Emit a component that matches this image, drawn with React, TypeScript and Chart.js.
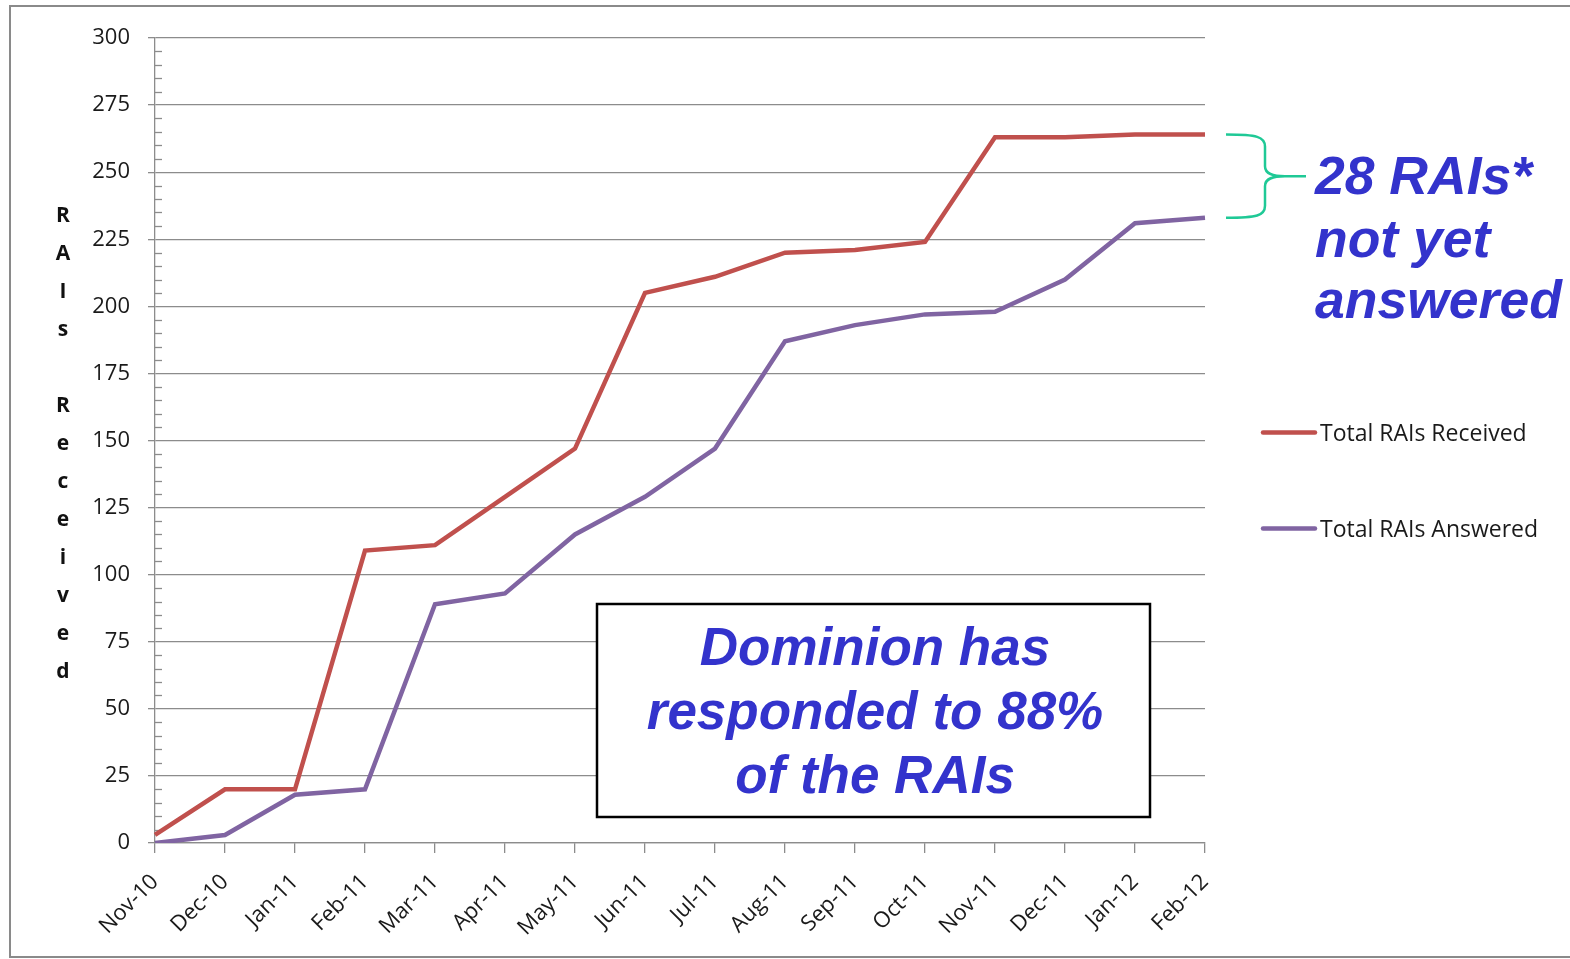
import React, { useEffect, useRef } from 'react';
import { Chart, registerables } from 'chart.js';

Chart.register(...registerables);

// ---- data ----
const months = ['Nov-10', 'Dec-10', 'Jan-11', 'Feb-11', 'Mar-11', 'Apr-11', 'May-11', 'Jun-11', 'Jul-11', 'Aug-11', 'Sep-11', 'Oct-11', 'Nov-11', 'Dec-11', 'Jan-12', 'Feb-12'];
const received = [3, 20, 20, 109, 111, 129, 147, 205, 211, 220, 221, 224, 263, 263, 264, 264];
const answered = [0, 3, 18, 20, 89, 93, 115, 129, 147, 187, 193, 197, 198, 210, 231, 233];
const seriesLabels = ['Total RAIs Received', 'Total RAIs Answered'];
const seriesColors = ['#c0504d', '#8064a2'];
const yTitle = 'RAIs Received';
const gapNote = ['28 RAIs*', 'not yet', 'answered'];
const boxNote = ['Dominion has', 'responded to 88%', 'of the RAIs'];
const yMin = 0;
const yMax = 300;
const yMajorStep = 25;
const yMinorStep = 5;

const GRID = '#8c8c8c';
const NOTE_BLUE = '#3333cc';
const BRACKET = '#1fc996';

const decor = {
  id: 'decor',
  beforeDraw(chart: any) {
    const ctx = chart.ctx;
    ctx.save();
    ctx.fillStyle = '#ffffff';
    ctx.fillRect(0, 0, chart.width, chart.height);
    ctx.strokeStyle = '#8a8a8a';
    ctx.lineWidth = 2;
    ctx.strokeRect(10, 6, chart.width + 40, 951);
    ctx.restore();
  },
  beforeDatasetsDraw(chart: any) {
    const ctx = chart.ctx;
    const y = chart.scales.y;
    const left = chart.chartArea.left;
    ctx.save();
    ctx.strokeStyle = GRID;
    ctx.lineWidth = 1.3;
    for (let v = yMin; v <= yMax; v += yMinorStep) {
      if (v % yMajorStep === 0) continue;
      const py = Math.round(y.getPixelForValue(v)) + 0.5;
      ctx.beginPath();
      ctx.moveTo(left, py);
      ctx.lineTo(left + 7, py);
      ctx.stroke();
    }
    ctx.restore();
  },
  afterDraw(chart: any) {
    const ctx = chart.ctx;
    const ys = chart.scales.y;
    const area = chart.chartArea;
    ctx.save();

    // stacked y-axis title
    ctx.fillStyle = '#111111';
    ctx.font = 'bold 21px "Open Sans"';
    ctx.textAlign = 'center';
    ctx.textBaseline = 'middle';
    yTitle.split('').forEach((ch, i) => {
      ctx.fillText(ch, 63, 216 + i * 38.0);
    });

    // legend
    chart.data.datasets.forEach((ds: any, i: number) => {
      const ly = 432.5 + i * 96;
      ctx.strokeStyle = ds.borderColor;
      ctx.lineWidth = 4.5;
      ctx.lineCap = 'round';
      ctx.beginPath();
      ctx.moveTo(1263, ly);
      ctx.lineTo(1315, ly);
      ctx.stroke();
      ctx.fillStyle = '#1a1a1a';
      ctx.font = '23px "Open Sans"';
      ctx.textAlign = 'left';
      ctx.textBaseline = 'alphabetic';
      ctx.fillText(ds.label, 1320, ly + 8.5);
    });

    // bracket between last values
    const lastR = received[received.length - 1];
    const lastA = answered[answered.length - 1];
    const yTop = ys.getPixelForValue(lastR);
    const yBot = ys.getPixelForValue(lastA);
    const yMid = (yTop + yBot) / 2;
    const x0 = area.right + 21;
    const xv = area.right + 60;
    const xp = area.right + 101;
    ctx.strokeStyle = BRACKET;
    ctx.lineWidth = 2.5;
    ctx.lineCap = 'butt';
    ctx.beginPath();
    ctx.moveTo(x0, yTop);
    ctx.bezierCurveTo(xv - 8, yTop, xv, yTop + 2, xv, yTop + 12);
    ctx.lineTo(xv, yMid - 10);
    ctx.bezierCurveTo(xv, yMid - 2, xv + 8, yMid, xv + 20, yMid);
    ctx.lineTo(xp, yMid);
    ctx.moveTo(xv + 20, yMid);
    ctx.bezierCurveTo(xv + 8, yMid, xv, yMid + 2, xv, yMid + 10);
    ctx.lineTo(xv, yBot - 12);
    ctx.bezierCurveTo(xv, yBot - 2, xv - 8, yBot, x0, yBot);
    ctx.stroke();

    // gap note
    ctx.fillStyle = NOTE_BLUE;
    ctx.font = 'italic bold 53.5px "Liberation Sans"';
    ctx.textAlign = 'left';
    ctx.textBaseline = 'alphabetic';
    const gapBase = [194, 257, 318];
    gapNote.forEach((t, i) => ctx.fillText(t, 1315, gapBase[i]));

    // box note
    ctx.fillStyle = '#ffffff';
    ctx.fillRect(597, 604, 553, 213);
    ctx.strokeStyle = '#000000';
    ctx.lineWidth = 2.5;
    ctx.strokeRect(597, 604, 553, 213);
    ctx.fillStyle = NOTE_BLUE;
    ctx.font = 'italic bold 53px "Liberation Sans"';
    ctx.textAlign = 'center';
    const boxBase = [665, 729, 793];
    boxNote.forEach((t, i) => ctx.fillText(t, 875, boxBase[i]));

    ctx.restore();
  },
};

export default function App() {
  const ref = useRef<HTMLCanvasElement>(null);
  useEffect(() => {
    const chart = new Chart(ref.current as HTMLCanvasElement, {
      type: 'line',
      data: {
        labels: months,
        datasets: [
          {
            label: seriesLabels[0],
            data: received,
            borderColor: seriesColors[0],
            backgroundColor: seriesColors[0],
            borderWidth: 4.5,
            pointRadius: 0,
            tension: 0,
            fill: false,
          },
          {
            label: seriesLabels[1],
            data: answered,
            borderColor: seriesColors[1],
            backgroundColor: seriesColors[1],
            borderWidth: 4.5,
            pointRadius: 0,
            tension: 0,
            fill: false,
          },
        ],
      },
      options: {
        responsive: false,
        animation: false,
        devicePixelRatio: 1,
        layout: { padding: { left: 0, right: 365, top: 38, bottom: 0 } },
        plugins: { legend: { display: false }, tooltip: { enabled: false } },
        scales: {
          x: {
            type: 'category',
            offset: false,
            grid: { drawOnChartArea: false, drawTicks: true, tickLength: 10, color: GRID, lineWidth: 1.3 },
            border: { color: GRID, width: 1.3 },
            ticks: {
              autoSkip: false,
              maxRotation: 45,
              minRotation: 45,
              padding: 16,
              color: '#1a1a1a',
              font: { family: 'Open Sans', size: 22 },
            },
            afterFit: (s: any) => {
              s.height = 116;
            },
          },
          y: {
            min: yMin,
            max: yMax,
            ticks: {
              stepSize: yMajorStep,
              padding: 18,
              color: '#1a1a1a',
              font: { family: 'Open Sans', size: 22 },
            },
            grid: { color: GRID, lineWidth: 1.3, tickLength: 7 },
            border: { color: GRID, width: 1.3 },
            afterFit: (s: any) => {
              s.width = 155;
            },
          },
        },
      },
      plugins: [decor],
    } as any);
    return () => chart.destroy();
  }, []);
  return (
    <div style={{ position: 'absolute', left: 0, top: 0, width: 1570, height: 959, background: '#fff' }}>
      <canvas ref={ref} width={1570} height={959} style={{ display: 'block' }} />
    </div>
  );
}
